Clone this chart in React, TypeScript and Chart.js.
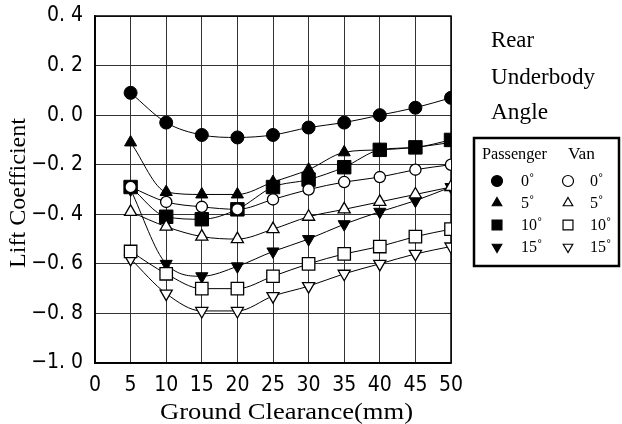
import React, { useEffect, useRef } from 'react';
import { Chart, registerables } from 'chart.js';

Chart.register(...registerables);

const clearance = [5, 10, 15, 20, 25, 30, 35, 40, 45, 50];
const passenger0 = [0.09, -0.03, -0.08, -0.09, -0.08, -0.05, -0.03, 0.0, 0.03, 0.07];
const passenger5 = [-0.11, -0.31, -0.32, -0.32, -0.27, -0.22, -0.15, -0.14, -0.13, -0.11];
const passenger10 = [-0.29, -0.41, -0.42, -0.38, -0.29, -0.26, -0.21, -0.14, -0.13, -0.1];
const passenger15 = [-0.3, -0.6, -0.65, -0.61, -0.55, -0.5, -0.44, -0.39, -0.345, -0.29];
const van0 = [-0.29, -0.35, -0.37, -0.38, -0.34, -0.3, -0.27, -0.25, -0.22, -0.2];
const van5 = [-0.39, -0.45, -0.49, -0.5, -0.46, -0.41, -0.38, -0.35, -0.32, -0.29];
const van10 = [-0.55, -0.64, -0.7, -0.7, -0.65, -0.6, -0.56, -0.53, -0.49, -0.46];
const van15 = [-0.58, -0.72, -0.79, -0.79, -0.73, -0.69, -0.64, -0.6, -0.56, -0.53];

const angleLabels = ['0˚', '5˚', '10˚', '15˚'];
const titleLines = ['Rear', 'Underbody', 'Angle'];
const xTitle = 'Ground Clearance(mm)';
const yTitle = 'Lift Coefficient';

const SERIF = "'Liberation Serif', 'Times New Roman', serif";
const NARROW = "'Liberation Sans Narrow', 'Arial Narrow', 'DejaVu Sans Condensed', sans-serif";

type Shape = { style: string; rot: number; r: number };
const shapes: Shape[] = [
  { style: 'circle', rot: 0, r: 6.5 },
  { style: 'triangle', rot: 0, r: 7 },
  { style: 'rect', rot: 0, r: 9.5 },
  { style: 'triangle', rot: 180, r: 7 },
];
const vanShapes: Shape[] = [
  { style: 'circle', rot: 0, r: 5.6 },
  { style: 'triangle', rot: 0, r: 7 },
  { style: 'rect', rot: 0, r: 8.8 },
  { style: 'triangle', rot: 180, r: 7 },
];

function drawFitText(
  ctx: CanvasRenderingContext2D,
  text: string,
  x: number,
  y: number,
  size: number,
  width: number,
  align: 'left' | 'center',
  rotate = false
) {
  ctx.save();
  ctx.font = `${size}px ${SERIF}`;
  ctx.fillStyle = '#000';
  ctx.textBaseline = 'alphabetic';
  ctx.textAlign = align;
  const w = ctx.measureText(text).width;
  ctx.translate(x, y);
  if (rotate) ctx.rotate(-Math.PI / 2);
  ctx.scale(width / w, 1);
  ctx.fillText(text, 0, 0);
  ctx.restore();
}

function drawMarker(
  ctx: CanvasRenderingContext2D,
  style: string,
  x: number,
  y: number,
  r: number,
  rot: number,
  filled: boolean
) {
  ctx.save();
  ctx.beginPath();
  if (style === 'circle') {
    ctx.arc(x, y, r, 0, Math.PI * 2);
  } else if (style === 'rect') {
    const s = r * Math.SQRT1_2;
    ctx.rect(x - s, y - s, 2 * s, 2 * s);
  } else {
    let a = (rot * Math.PI) / 180;
    ctx.moveTo(x + Math.sin(a) * r, y - Math.cos(a) * r);
    a += (2 * Math.PI) / 3;
    ctx.lineTo(x + Math.sin(a) * r, y - Math.cos(a) * r);
    a += (2 * Math.PI) / 3;
    ctx.lineTo(x + Math.sin(a) * r, y - Math.cos(a) * r);
    ctx.closePath();
  }
  ctx.fillStyle = filled ? '#000' : '#fff';
  ctx.fill();
  ctx.lineWidth = 1.2;
  ctx.strokeStyle = '#000';
  ctx.stroke();
  ctx.restore();
}

const decorPlugin = {
  id: 'decor',
  beforeDatasetsDraw(chart: any) {
    const { ctx, chartArea: a } = chart;
    ctx.save();
    ctx.strokeStyle = '#000';
    ctx.lineWidth = 1.5;
    ctx.strokeRect(a.left, a.top, a.right - a.left, a.bottom - a.top);
    ctx.restore();
  },
  afterDraw(chart: any) {
    const ctx: CanvasRenderingContext2D = chart.ctx;
    // Right-side title
    drawFitText(ctx, titleLines[0], 491, 47, 22.5, 43, 'left');
    drawFitText(ctx, titleLines[1], 491, 84, 22.5, 104, 'left');
    drawFitText(ctx, titleLines[2], 491, 119, 22.5, 57, 'left');
    // Axis titles
    drawFitText(ctx, xTitle, 286.5, 419, 24, 253, 'center');
    drawFitText(ctx, yTitle, 25, 193, 22.5, 150, 'center', true);
    // Legend box
    ctx.save();
    ctx.strokeStyle = '#000';
    ctx.lineWidth = 2.5;
    ctx.strokeRect(474, 138, 145, 128);
    ctx.restore();
    drawFitText(ctx, 'Passenger', 482, 159, 16, 65, 'left');
    drawFitText(ctx, 'Van', 568, 159, 16, 27, 'left');
    const rowsY = [181, 203, 225, 247];
    rowsY.forEach((ry, i) => {
      const p = shapes[i];
      const legR = p.style === 'rect' ? 7 : 5.5;
      drawMarker(ctx, p.style, 497, ry, legR, p.rot, true);
      drawMarker(ctx, p.style, 568, ry, legR, p.rot, false);
      ctx.save();
      ctx.font = `16px ${SERIF}`;
      ctx.fillStyle = '#000';
      ctx.textBaseline = 'middle';
      ctx.textAlign = 'left';
      ctx.fillText(angleLabels[i], 521, ry + 1);
      ctx.fillText(angleLabels[i], 590, ry + 1);
      ctx.restore();
    });
  },
};

function makeDataset(label: string, values: number[], shape: Shape, filled: boolean) {
  return {
    label,
    data: clearance.map((x, i) => ({ x, y: values[i] })),
    borderColor: '#000',
    borderWidth: 1,
    backgroundColor: filled ? '#000' : '#fff',
    pointStyle: shape.style,
    pointRotation: shape.rot,
    pointRadius: shape.r,
    pointBackgroundColor: filled ? '#000' : '#fff',
    pointBorderColor: '#000',
    pointBorderWidth: filled ? 1 : 1.3,
    cubicInterpolationMode: 'monotone' as const,
    fill: false,
  };
}

export default function App() {
  const ref = useRef<HTMLCanvasElement | null>(null);
  useEffect(() => {
    if (!ref.current) return;
    const chart = new Chart(ref.current, {
      type: 'line',
      data: {
        datasets: [
          makeDataset('Van 0°', van0, vanShapes[0], false),
          makeDataset('Van 5°', van5, vanShapes[1], false),
          makeDataset('Van 10°', van10, vanShapes[2], false),
          makeDataset('Van 15°', van15, vanShapes[3], false),
          makeDataset('Passenger 0°', passenger0, shapes[0], true),
          makeDataset('Passenger 10°', passenger10, shapes[2], true),
          makeDataset('Passenger 5°', passenger5, shapes[1], true),
          makeDataset('Passenger 15°', passenger15, shapes[3], true),
        ] as any,
      },
      options: {
        responsive: false,
        animation: false,
        layout: { padding: { left: 0, top: 16, right: 171, bottom: 0 } },
        plugins: { legend: { display: false }, tooltip: { enabled: false } },
        scales: {
          x: {
            type: 'linear',
            min: 0,
            max: 50,
            ticks: {
              stepSize: 5,
              color: '#000',
              font: { family: NARROW, size: 21 },
              padding: 10,
              maxRotation: 0,
              autoSkip: false,
            },
            grid: { color: '#333', lineWidth: 1, drawTicks: false },
            border: { color: '#000', width: 1.5 },
            afterFit: (s: any) => {
              s.height = 61;
              s.paddingLeft = 0;
              s.paddingRight = 0;
            },
          },
          y: {
            type: 'linear',
            min: -1,
            max: 0.4,
            ticks: {
              stepSize: 0.2,
              color: '#000',
              font: { family: NARROW, size: 21 },
              padding: 12,
              callback: (v: any) => {
                const n = Number(v);
                const s = Math.abs(n).toFixed(1).replace('.', '. ');
                return (n < -1e-9 ? '−' : '') + s;
              },
            },
            grid: { color: '#333', lineWidth: 1, drawTicks: false },
            border: { color: '#000', width: 1.5 },
            afterFit: (s: any) => {
              s.width = 95;
              s.paddingTop = 0;
              s.paddingBottom = 0;
            },
          },
        },
      } as any,
      plugins: [decorPlugin],
    });
    return () => chart.destroy();
  }, []);
  return (
    <div style={{ position: 'fixed', left: 0, top: 0, width: 622, height: 424, background: '#fff' }}>
      <canvas ref={ref} width={622} height={424} />
    </div>
  );
}
